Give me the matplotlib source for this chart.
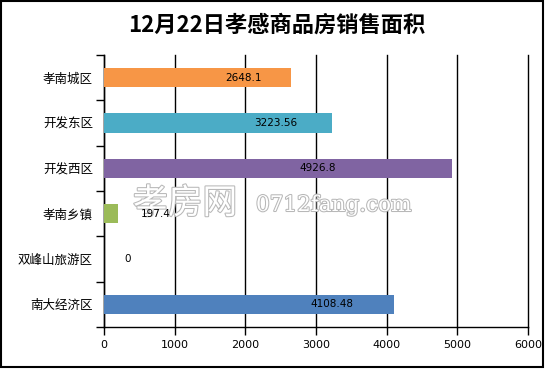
import matplotlib
matplotlib.use('Agg')
import matplotlib.pyplot as plt
import matplotlib.patheffects as pe
from matplotlib.patches import Rectangle

plt.rcParams['font.family'] = ['Noto Sans CJK SC', 'DejaVu Sans']

# data (top to bottom as shown)
districts = ['孝南城区', '开发东区', '开发西区', '孝南乡镇', '双峰山旅游区', '南大经济区']
areas = [2648.1, 3223.56, 4926.8, 197.4, 0, 4108.48]
value_text = ['2648.1', '3223.56', '4926.8', '197.4', '0', '4108.48']
bar_colors = ['#F79646', '#4BACC6', '#8064A2', '#9BBB59', '#4F81BD', '#4F81BD']
# where the value labels sit (data units), as in the source chart
label_x = [1980, 2430, 3030, 735, 340, 3225]
x_ticks = [0, 1000, 2000, 3000, 4000, 5000, 6000]

fig = plt.figure(figsize=(5.46, 3.69), dpi=100)
fig.patch.set_facecolor('white')
ax = fig.add_axes([104 / 546, 1 - 327 / 369, 424 / 546, 272 / 369])

n = len(districts)
ypos = [n - 1 - i for i in range(n)]
ax.barh(ypos, areas, height=0.43, color=bar_colors, zorder=3)
for y, lx, t in zip(ypos, label_x, value_text):
    ax.text(lx, y, t, ha='center', va='center', fontsize=7.5,
            family='DejaVu Sans', color='black', zorder=6)

ax.set_xlim(0, 6000)
ax.set_ylim(-0.5, n - 0.5)
ax.set_xticks(x_ticks)
ax.set_xticklabels([str(v) for v in x_ticks], fontsize=8, family='DejaVu Sans')
ax.set_yticks(ypos)
ax.set_yticklabels(districts, fontsize=9)
ax.set_yticks([i - 0.5 for i in range(n + 1)], minor=True)
ax.tick_params(axis='y', which='major', length=0, pad=8)
ax.tick_params(axis='y', which='minor', length=6, width=1, color='black')
ax.tick_params(axis='x', length=6, width=1, color='black', pad=3)
ax.grid(axis='x', color='black', linewidth=1, zorder=1)
for gl in ax.get_xgridlines():
    gl.set_clip_on(False)
ax.spines['top'].set_visible(False)
ax.spines['right'].set_visible(False)
ax.spines['left'].set_linewidth(1)
ax.spines['bottom'].set_linewidth(1)

fig.text(277 / 546, 1 - 25 / 369, '12月22日孝感商品房销售面积', ha='center', va='center',
         fontsize=16, fontweight='bold')

# watermark (drawn under the value labels)
outline = [pe.withStroke(linewidth=1.5, foreground='#B8B8B8')]
ax.text(133 / 546, 1 - 204 / 369, '孝房网', fontsize=25, color='white',
        va='center', ha='left', path_effects=outline, zorder=5,
        transform=fig.transFigure, clip_on=False)
ax.text(256 / 546, 1 - 205 / 369, '0712fang.com', fontsize=15.5, color='white',
        va='center', ha='left', family='DejaVu Serif', path_effects=outline, zorder=5,
        transform=fig.transFigure, clip_on=False)

# chart frame
fig.patches.append(Rectangle((1 / 546, 2 / 369), 542 / 546, 366 / 369,
                             transform=fig.transFigure, fill=False,
                             edgecolor='black', linewidth=1.5))

fig.savefig('out.png', dpi=100)
